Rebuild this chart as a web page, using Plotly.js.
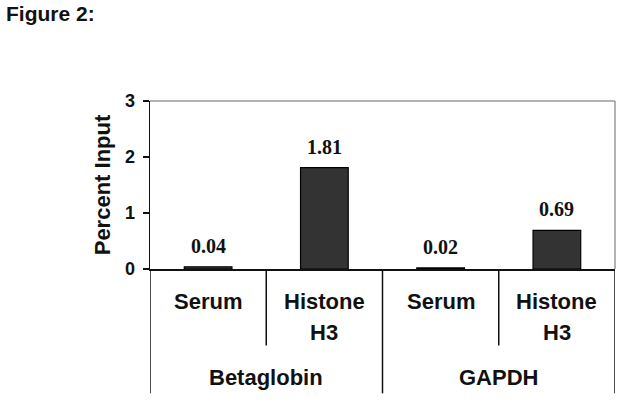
<!DOCTYPE html>
<html>
<head>
<meta charset="utf-8">
<script src="https://cdn.plot.ly/plotly-3.0.1.min.js"></script>
<style>
  html, body { margin: 0; padding: 0; background: #fff; }
  #chart { width: 640px; height: 412px; }
</style>
</head>
<body>
<div id="chart"></div>
<script>
// ChIP percent input, two loci x two antibodies

const groups = ["Betaglobin", "GAPDH"];
const antibodyLines = [["Serum"], ["Histone", "H3"]];
const values = [0.04, 1.81, 0.02, 0.69];
const valueLabels = ["0.04", "1.81", "0.02", "0.69"];
const yTicks = [0, 1, 2, 3];

const C = {
    bar: "#333333",
    edge: "#000000",
    frame: "#999999",
    ink: "#111111"
};

const sans = "Liberation Sans, Arial, sans-serif";
const serif = "Liberation Serif, Times New Roman, serif";

const n = values.length;
const perGroup = antibodyLines.length;
const slots = values.map((v, i) => i);

const trace = {
    type: "bar",
    x: slots,
    y: values,
    width: 0.41,
    marker: { color: C.bar, line: { color: C.edge, width: 1.2 } },
    hoverinfo: "skip"
};

const annotations = [];

// value labels above each bar
values.forEach((v, i) => {
    annotations.push({
        x: i, y: v, xref: "x", yref: "y",
        text: "<b>" + valueLabels[i] + "</b>",
        showarrow: false, yanchor: "middle", yshift: 21,
        font: { family: serif, size: 20, color: C.ink }
    });
});

// antibody labels, one annotation per text line
const rowShift = [-32, -63];
slots.forEach(i => {
    antibodyLines[i % perGroup].forEach((line, r) => {
        annotations.push({
            x: i, y: 0, xref: "x", yref: "paper",
            text: "<b>" + line + "</b>",
            showarrow: false, yanchor: "middle", yshift: rowShift[r],
            font: { family: sans, size: 22, color: C.ink }
        });
    });
});

// locus labels
groups.forEach((g, k) => {
    annotations.push({
        x: k * perGroup + (perGroup - 1) / 2,
        y: 0, xref: "x", yref: "paper",
        text: "<b>" + g + "</b>",
        showarrow: false, yanchor: "middle", yshift: -108,
        font: { family: sans, size: 22, color: C.ink }
    });
});

// figure label, top-left of the page
annotations.push({
    x: 0, y: 1, xref: "paper", yref: "paper",
    xshift: -146, yshift: 88,
    text: "<b>Figure 2:</b>",
    showarrow: false, xanchor: "left", yanchor: "middle",
    font: { family: sans, size: 21, color: C.ink }
});

const shapes = [];

// dividers under the axis: long between loci, short between antibodies
for (let b = 0; b <= n; b++) {
    const isGroupEdge = b % perGroup === 0;
    shapes.push({
        type: "line", xref: "x", yref: "paper",
        x0: b - 0.5, x1: b - 0.5,
        y0: 0, y1: isGroupEdge ? -0.74 : -0.455,
        line: { color: C.ink, width: 1.5 }
    });
}

// grey top and right frame
shapes.push({
    type: "line", xref: "paper", yref: "paper",
    x0: 0, x1: 1, y0: 1, y1: 1,
    line: { color: C.frame, width: 1.5 }
});
shapes.push({
    type: "line", xref: "paper", yref: "paper",
    x0: 1, x1: 1, y0: 0, y1: 1,
    line: { color: C.frame, width: 1.5 }
});

const layout = {
    width: 640,
    height: 412,
    paper_bgcolor: "#fff",
    plot_bgcolor: "#fff",
    margin: { l: 150, r: 25, t: 101, b: 143 },
    showlegend: false,
    xaxis: {
        range: [-0.5, n - 0.5],
        showticklabels: false,
        ticks: "",
        showgrid: false,
        zeroline: false,
        showline: true,
        linecolor: C.ink,
        linewidth: 1.5,
        fixedrange: true
    },
    yaxis: {
        range: [0, 3],
        tickvals: yTicks,
        ticktext: yTicks.map(t => "<b>" + t + "</b>"),
        ticks: "outside",
        ticklen: 6,
        tickwidth: 1.5,
        tickcolor: C.ink,
        ticklabelstandoff: 4,
        tickfont: { family: sans, size: 18, color: C.ink },
        showgrid: false,
        zeroline: false,
        showline: true,
        linecolor: C.ink,
        linewidth: 1.5,
        title: {
            text: "<b>Percent Input</b>",
            font: { family: sans, size: 22, color: C.ink },
            standoff: 8
        },
        fixedrange: true
    },
    annotations: annotations,
    shapes: shapes
};

Plotly.newPlot("chart", [trace], layout, { displayModeBar: false, staticPlot: true });
</script>
</body>
</html>
